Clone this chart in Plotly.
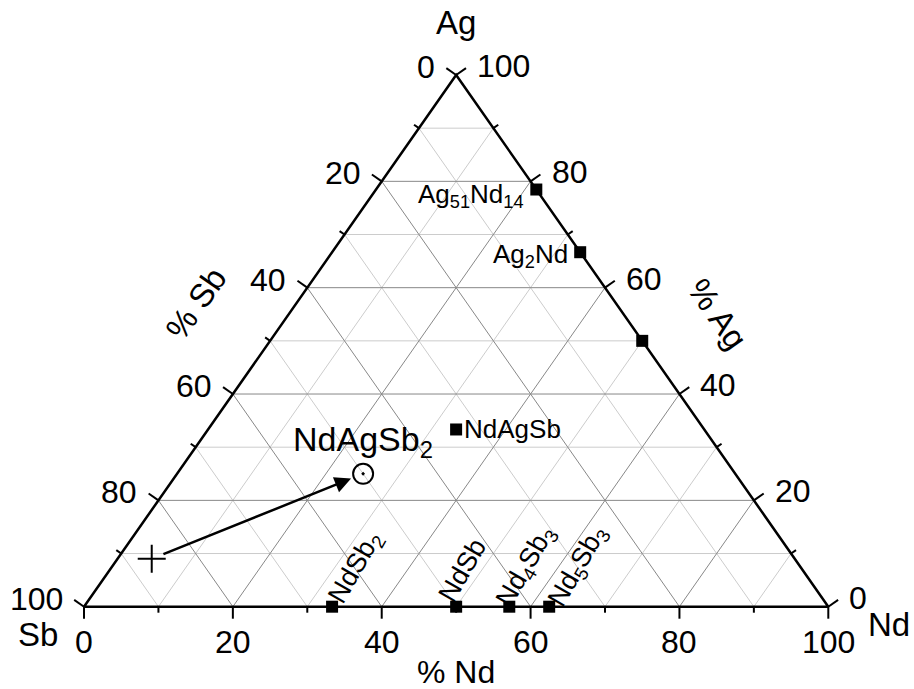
import plotly.graph_objects as go

# Ag–Nd–Sb composition triangle, all values in at.%
# Corners: Ag (top), Sb (bottom left), Nd (bottom right)

# Binary phases on the Ag–Nd edge (Sb = 0)
agnd_labels = ["Ag<sub>51</sub>Nd<sub>14</sub>", "Ag<sub>2</sub>Nd", ""]
agnd_ag = [78.46, 66.67, 50.0]
agnd_nd = [21.54, 33.33, 50.0]

# Binary phases on the Sb–Nd edge (Ag = 0)
ndsb_labels = ["NdSb<sub>2</sub>", "NdSb", "Nd<sub>4</sub>Sb<sub>3</sub>", "Nd<sub>5</sub>Sb<sub>3</sub>"]
ndsb_ag = [0.0, 0.0, 0.0, 0.0]
ndsb_nd = [33.33, 50.0, 57.14, 62.5]

# Known ternary phase
tern_label = "NdAgSb"
tern_ag = [33.33]
tern_nd = [33.33]

# Targeted phase and starting composition
target_label = "NdAgSb<sub>2</sub>"
target_ag = [25.0]
target_nd = [25.0]
start_ag = [9.0]
start_nd = [4.6]

tick_values = [0, 10, 20, 30, 40, 50, 60, 70, 80, 90, 100]
tick_labels = ["0", "20", "40", "60", "80", "100"]

FONT = "Liberation Sans, Arial, sans-serif"
W, H = 914, 689
X_RANGE = [-11.286, 111.514]
Y_RANGE = [-15.479, 114.105]
SX = W / (X_RANGE[1] - X_RANGE[0])   # px per unit, horizontal
SY = H / (Y_RANGE[1] - Y_RANGE[0])   # px per unit, vertical


def to_xy(ag, nd):
    """Ternary (Ag, Nd) -> cartesian plot coordinates."""
    return nd + ag / 2.0, ag


def lists_xy(ags, nds):
    pts = [to_xy(a, n) for a, n in zip(ags, nds)]
    return [p[0] for p in pts], [p[1] for p in pts]


fig = go.Figure()

# ---- grid lines every 10 %, darker on multiples of 20 ----
grid = {"major": ([], []), "minor": ([], [])}
for v in tick_values[1:-1]:
    key = "major" if v % 20 == 0 else "minor"
    gx, gy = grid[key]
    segs = [
        (to_xy(v, 0), to_xy(v, 100 - v)),            # constant Ag
        (to_xy(0, v), to_xy(100 - v, v)),            # constant Nd
        (to_xy(0, 100 - v), to_xy(100 - v, 0)),      # constant Sb
    ]
    for p, q in segs:
        gx += [p[0], q[0], None]
        gy += [p[1], q[1], None]

fig.add_trace(go.Scatter(x=grid["minor"][0], y=grid["minor"][1], mode="lines",
                         line=dict(color="#cccccc", width=1), hoverinfo="skip"))
fig.add_trace(go.Scatter(x=grid["major"][0], y=grid["major"][1], mode="lines",
                         line=dict(color="#888888", width=1), hoverinfo="skip"))

# ---- tick marks, perpendicular (in pixels) to each edge ----
ex, ey = (372.7, 531.7)
norm = (ex ** 2 + ey ** 2) ** 0.5
nx, ny = ey / norm, ex / norm          # pixel components of the side normals

tx, ty = [], []
for v in tick_values:
    L = 12 if v % 20 == 0 else 6
    # bottom edge (% Nd)
    x0, y0 = to_xy(0, v)
    tx += [x0, x0, None]
    ty += [y0, y0 - L / SY, None]
    # left edge (% Sb)
    x0, y0 = to_xy(100 - v, 0)
    tx += [x0, x0 - nx * L / SX, None]
    ty += [y0, y0 + ny * L / SY, None]
    # right edge (% Ag)
    x0, y0 = to_xy(v, 100 - v)
    tx += [x0, x0 + nx * L / SX, None]
    ty += [y0, y0 + ny * L / SY, None]

fig.add_trace(go.Scatter(x=tx, y=ty, mode="lines",
                         line=dict(color="black", width=2), hoverinfo="skip"))

# ---- triangle frame ----
cx, cy = lists_xy([0, 0, 100, 0], [0, 100, 0, 0])
fig.add_trace(go.Scatter(x=cx, y=cy, mode="lines",
                         line=dict(color="black", width=2.5), hoverinfo="skip"))

# ---- phases ----
sq = dict(symbol="square", size=12, color="black")
px_, py_ = lists_xy(agnd_ag, agnd_nd)
fig.add_trace(go.Scatter(x=px_, y=py_, mode="markers", marker=sq, cliponaxis=False))
px_, py_ = lists_xy(ndsb_ag, ndsb_nd)
fig.add_trace(go.Scatter(x=px_, y=py_, mode="markers", marker=sq, cliponaxis=False))
px_, py_ = lists_xy(tern_ag, tern_nd)
fig.add_trace(go.Scatter(x=px_, y=py_, mode="markers", marker=sq))

tgx, tgy = lists_xy(target_ag, target_nd)
fig.add_trace(go.Scatter(x=tgx, y=tgy, mode="markers",
                         marker=dict(symbol="circle-open-dot", size=20, color="black",
                                     line=dict(width=2, color="black"))))
stx, sty = lists_xy(start_ag, start_nd)
fig.add_trace(go.Scatter(x=stx, y=sty, mode="markers",
                         marker=dict(symbol="cross-thin-open", size=20, color="black",
                                     line=dict(width=2, color="black"))))

ann = []


def label(x, y, text, size, **kw):
    d = dict(x=x, y=y, xref="x", yref="y", text=text, showarrow=False,
             font=dict(family=FONT, size=size, color="black"))
    d.update(kw)
    ann.append(d)


# tick labels
for v, t in zip(range(0, 101, 20), tick_labels):
    x0, y0 = to_xy(0, v)
    label(x0, y0, t, 32, xanchor="center", yanchor="middle", yshift=-35)
    x0, y0 = to_xy(100 - v, 0)
    label(x0, y0, t, 32, xanchor="right", yanchor="middle", xshift=-19, yshift=8)
    x0, y0 = to_xy(v, 100 - v)
    label(x0, y0, t, 32, xanchor="left", yanchor="middle", xshift=19, yshift=9)

# corner and axis titles
x0, y0 = to_xy(100, 0)
label(x0, y0, "Ag", 33, xanchor="center", yanchor="middle", yshift=53)
x0, y0 = to_xy(0, 0)
label(x0, y0, "Sb", 33, xanchor="center", yanchor="middle", xshift=-46, yshift=-28)
x0, y0 = to_xy(0, 100)
label(x0, y0, "Nd", 33, xanchor="center", yanchor="middle", xshift=61, yshift=-18)
x0, y0 = to_xy(0, 50)
label(x0, y0, "% Nd", 32, xanchor="center", yanchor="middle", yshift=-65)
x0, y0 = to_xy(50, 0)
label(x0, y0, "% Sb", 33, xanchor="center", yanchor="middle", xshift=-74, yshift=37,
      textangle=-55)
x0, y0 = to_xy(50, 50)
label(x0, y0, "% Ag", 33, xanchor="center", yanchor="middle", xshift=75, yshift=27,
      textangle=55)

# phase labels
agnd_shift = [(-10, -6), (-10, -3), (0, 0)]
for a, n, t, (dx, dy) in zip(agnd_ag, agnd_nd, agnd_labels, agnd_shift):
    if t:
        x0, y0 = to_xy(a, n)
        label(x0, y0, t, 26, xanchor="right", yanchor="middle", xshift=dx, yshift=dy)

ndsb_shift = [(24, 39), (6, 37), (17, 40), (29, 40)]
for a, n, t, (dx, dy) in zip(ndsb_ag, ndsb_nd, ndsb_labels, ndsb_shift):
    x0, y0 = to_xy(a, n)
    label(x0, y0, t, 27, xanchor="center", yanchor="middle", xshift=dx, yshift=dy,
          textangle=-60)

label(px_[0], py_[0], tern_label, 26, xanchor="left", yanchor="middle", xshift=6)
label(tgx[0], tgy[0], target_label, 34, xanchor="center", yanchor="bottom", yshift=9)

# arrow from the starting composition to the target phase
ann.append(dict(x=tgx[0], y=tgy[0], ax=stx[0], ay=sty[0], xref="x", yref="y",
                axref="x", ayref="y", text="", showarrow=True, arrowhead=2,
                arrowsize=1.3, arrowwidth=2.5, arrowcolor="black",
                standoff=13, startstandoff=11))

fig.update_layout(
    width=W, height=H, margin=dict(l=0, r=0, t=0, b=0),
    paper_bgcolor="white", plot_bgcolor="white", showlegend=False,
    xaxis=dict(range=X_RANGE, visible=False, fixedrange=True),
    yaxis=dict(range=Y_RANGE, visible=False, fixedrange=True),
    annotations=ann,
)

fig.write_html("out.html")
